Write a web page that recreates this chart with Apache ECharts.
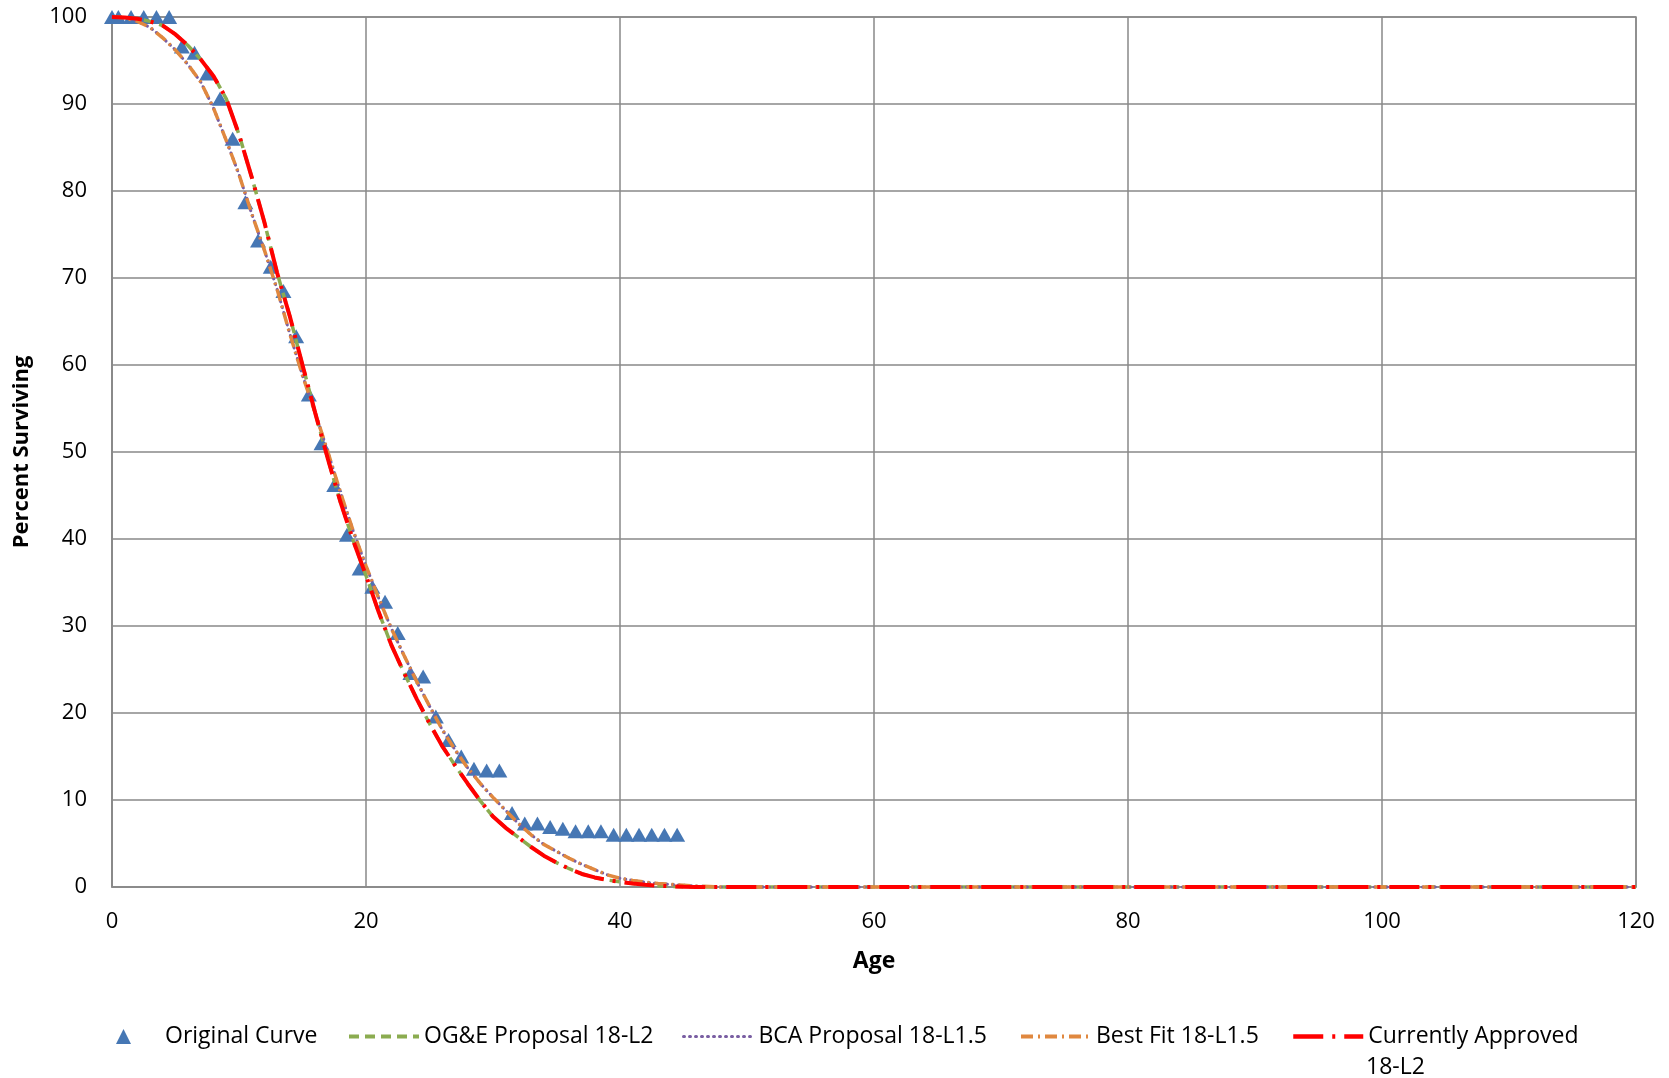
<!DOCTYPE html>
<html>
<head>
<meta charset="utf-8">
<script src="https://cdn.jsdelivr.net/npm/echarts@6/dist/echarts.min.js"></script>
<style>
html,body{margin:0;padding:0;background:#fff;}
#chart{width:1669px;height:1078px;}
</style>
</head>
<body>
<div id="chart"></div>
<script>
// ---- data ----
var origAges = [0,0.5,1.5,2.5,3.5,4.5,5.5,6.5,7.5,8.5,9.5,10.5,11.5,12.5,13.5,14.5,15.5,16.5,17.5,18.5,19.5,20.5,21.5,22.5,23.5,24.5,25.5,26.5,27.5,28.5,29.5,30.5,31.5,32.5,33.5,34.5,35.5,36.5,37.5,38.5,39.5,40.5,41.5,42.5,43.5,44.5];
var origValues = [100,100,100,100,100,100,96.6,95.9,93.5,90.6,86.0,78.7,74.3,71.3,68.5,63.3,56.6,51.0,46.2,40.5,36.6,34.5,32.8,29.2,24.6,24.2,19.6,16.9,15.0,13.6,13.4,13.4,8.5,7.3,7.3,6.9,6.7,6.4,6.4,6.4,6.0,6.0,6.0,6.0,6.0,6.0];

var curveAges = [0,1,2,3,4,5,6,7,8,9,10,11,12,13,14,15,16,17,18,19,20,21,22,23,24,25,26,27,28,29,30,31,32,33,34,35,36,37,38,39,40,41,42,43,44,45,46,47,48,50,60,70,80,90,100,110,120];
var l2Values = [100,99.95,99.8,99.5,99.0,98.0,96.7,95.1,93.2,90.6,86.5,81.6,76.4,70.6,65.6,60.0,54.5,49.2,44.2,39.8,35.8,31.6,27.8,24.6,21.6,18.8,16.2,14.0,11.9,9.9,8.1,6.8,5.7,4.6,3.6,2.8,2.1,1.5,1.1,0.8,0.6,0.4,0.25,0.15,0.08,0.03,0,0,0,0,0,0,0,0,0,0,0];
var l15Values = [100,99.9,99.5,98.8,97.6,96.2,94.5,92.5,89.5,85.8,81.9,77.4,73.2,68.7,63.6,58.8,54.5,50.0,45.3,40.9,36.9,33.2,29.7,26.6,23.6,20.8,18.1,15.8,13.7,11.9,10.3,8.8,7.3,6.0,4.9,4.1,3.3,2.6,2.0,1.4,1.0,0.75,0.55,0.4,0.3,0.2,0.1,0.05,0,0,0,0,0,0,0,0,0];

var xTicks = [0,20,40,60,80,100,120];
var yTicks = [0,10,20,30,40,50,60,70,80,90,100];

var seriesNames = ['Original Curve','OG&E Proposal 18-L2','BCA Proposal 18-L1.5','Best Fit 18-L1.5','Currently Approved 18-L2'];

function pairs(xs, ys){ return xs.map(function(x,i){ return [x, ys[i]]; }); }

var FONT = 'Open Sans';
var chart = echarts.init(document.getElementById('chart'), null, {renderer:'canvas'});

var legendBase = {
  orient:'horizontal', top:1025, itemHeight:14, itemGap:0, padding:0,
  textStyle:{fontFamily:FONT, fontSize:23, color:'#000'}
};
function lg(name, left, lw, extra){
  var o = Object.assign({}, legendBase, {data:[name], left:left, itemWidth:70,
    itemStyle:{opacity:0}, lineStyle:{width:lw}});
  return Object.assign(o, extra||{});
}

var option = {
  animation:false,
  backgroundColor:'#fff',
  grid:{left:112, right:33, top:17, bottom:191, show:true, borderColor:'#898989', borderWidth:1.5},
  xAxis:{
    type:'value', min:0, max:120, interval:20,
    name:'Age', nameLocation:'middle', nameGap:63,
    nameTextStyle:{fontFamily:FONT, fontSize:23, fontWeight:'bold', color:'#000'},
    axisLine:{show:true, lineStyle:{color:'#898989', width:1.5}},
    axisTick:{show:false},
    axisLabel:{fontFamily:FONT, fontSize:22, color:'#000', margin:24,
      formatter:function(v){ return xTicks.indexOf(v)>=0 ? String(v) : ''; }},
    splitLine:{show:true, lineStyle:{color:'#898989', width:1.5}}
  },
  yAxis:{
    type:'value', min:0, max:100, interval:10,
    name:'Percent Surviving', nameLocation:'middle', nameGap:79,
    nameTextStyle:{fontFamily:FONT, fontSize:22, fontWeight:'bold', color:'#000'},
    axisLine:{show:true, lineStyle:{color:'#898989', width:1.5}},
    axisTick:{show:false},
    axisLabel:{fontFamily:FONT, fontSize:22, color:'#000', margin:25,
      formatter:function(v){ return yTicks.indexOf(v)>=0 ? String(v) : ''; }},
    splitLine:{show:true, lineStyle:{color:'#898989', width:1.5}}
  },
  legend:[
    Object.assign({}, legendBase, {data:[seriesNames[0]], left:116, top:1025, itemWidth:15, itemHeight:15,
      textStyle:{fontFamily:FONT, fontSize:23, color:'#000', padding:[0,0,0,29]}}),
    lg(seriesNames[1], 347, 4),
    lg(seriesNames[2], 682, 3),
    lg(seriesNames[3], 1019, 4),
    lg(seriesNames[4], 1291, 4.5, {formatter:function(){ return 'Currently Approved'; }})
  ],
  graphic:[
    {type:'text', left:1366, top:1056, style:{text:'18-L2', fontFamily:FONT, fontSize:23, fill:'#000'}}
  ],
  series:[
    {
      name:seriesNames[0], type:'scatter', data:pairs(origAges, origValues),
      symbol:'triangle', symbolSize:[16,14], clip:false, z:2,
      itemStyle:{color:'#4677B4', opacity:1}
    },
    {
      name:seriesNames[1], type:'line', data:pairs(curveAges, l2Values),
      symbol:'none', clip:false, z:3,
      lineStyle:{color:'#8BAC50', width:3.5, type:[10,6]},
      itemStyle:{color:'#8BAC50'}
    },
    {
      name:seriesNames[2], type:'line', data:pairs(curveAges, l15Values),
      symbol:'none', clip:false, z:4,
      lineStyle:{color:'#7A5FA3', width:3, type:[1,5], cap:'round'},
      itemStyle:{color:'#7A5FA3'}
    },
    {
      name:seriesNames[3], type:'line', data:pairs(curveAges, l15Values),
      symbol:'none', clip:false, z:5,
      lineStyle:{color:'#E0883F', width:3.5, type:[12,5,2,5]},
      itemStyle:{color:'#E0883F'}
    },
    {
      name:seriesNames[4], type:'line', data:pairs(curveAges, l2Values),
      symbol:'none', clip:false, z:6,
      lineStyle:{color:'#FF0000', width:4, type:[30,9,3,9]},
      itemStyle:{color:'#FF0000'}
    }
  ]
};
chart.setOption(option);
</script>
</body>
</html>
